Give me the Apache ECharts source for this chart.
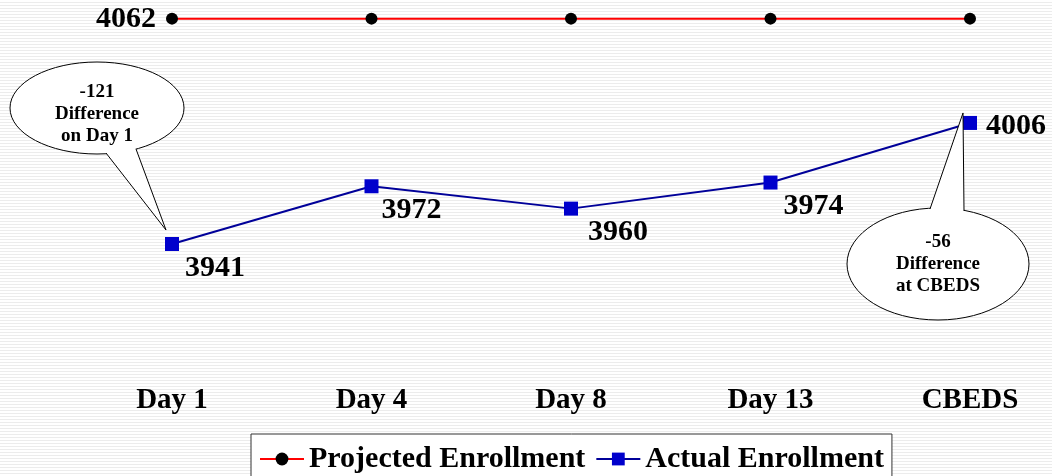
<!DOCTYPE html>
<html>
<head>
<meta charset="utf-8">
<script src="https://cdn.jsdelivr.net/npm/echarts@6/dist/echarts.min.js"></script>
<style>
  html, body { margin: 0; padding: 0; }
  #chart {
    width: 1052px;
    height: 476px;
    background: repeating-linear-gradient(to bottom, #ffffff 0px, #ffffff 2px, #ececec 2px, #ececec 3px);
  }
</style>
</head>
<body>
<div id="chart"></div>
<script>
const categories = ['Day 1', 'Day 4', 'Day 8', 'Day 13', 'CBEDS']
const projected = [4062, 4062, 4062, 4062, 4062]
const actual = [3941, 3972, 3960, 3974, 4006]

const font = 'Liberation Serif'
// label offsets for the actual series, per point
const actualOffsets = [[43, 24], [40, 24], [47, 24], [43, 24], [46, 3]]

const chart = echarts.init(document.getElementById('chart'))

const option = {
  animation: false,
  backgroundColor: 'transparent',
  grid: { left: 172, right: 82, top: 0, bottom: 96 },
  xAxis: {
    type: 'category',
    data: categories,
    boundaryGap: false,
    axisLine: { show: false },
    axisTick: { show: false },
    axisLabel: {
      margin: 6,
      fontFamily: font,
      fontWeight: 'bold',
      fontSize: 29,
      color: '#000'
    }
  },
  yAxis: {
    type: 'value',
    min: 3868,
    max: 4072,
    show: false,
    splitLine: { show: false }
  },
  legend: {
    left: 251,
    bottom: -18,
    itemGap: 10,
    itemWidth: 44,
    itemHeight: 16,
    padding: [10, 8, 20, 8],
    borderColor: '#333',
    borderWidth: 1,
    backgroundColor: '#fff',
    textStyle: {
      fontFamily: font,
      fontWeight: 'bold',
      fontSize: 30,
      color: '#000'
    },
    data: ['Projected Enrollment', 'Actual Enrollment']
  },
  series: [
    {
      name: 'Projected Enrollment',
      type: 'line',
      data: projected.map((v, i) => ({
        value: v,
        label: { show: i === 0 }
      })),
      symbol: 'circle',
      symbolSize: 12,
      itemStyle: { color: '#000' },
      lineStyle: { color: '#ff0000', width: 2 },
      label: {
        position: 'inside',
        offset: [-46, 1],
        fontFamily: font,
        fontWeight: 'bold',
        fontSize: 30,
        color: '#000'
      }
    },
    {
      name: 'Actual Enrollment',
      type: 'line',
      data: actual.map((v, i) => ({
        value: v,
        label: { offset: actualOffsets[i] }
      })),
      symbol: 'rect',
      symbolSize: 14,
      itemStyle: { color: '#0000cc' },
      lineStyle: { color: '#000099', width: 2 },
      label: {
        show: true,
        position: 'inside',
        fontFamily: font,
        fontWeight: 'bold',
        fontSize: 30,
        color: '#000'
      },
      z: 3
    }
  ]
}

chart.setOption(option)

// callout bubbles pointing at the first and last actual points
function callout(idx, ell, base1, base2, tipOff, lines) {
  const p = chart.convertToPixel({ seriesIndex: 1 }, [idx, actual[idx]])
  const tip = [p[0] + tipOff[0], p[1] + tipOff[1]]
  const inner1 = [base1[0] + (ell.cx - base1[0]) * 0.15, base1[1] + (ell.cy - base1[1]) * 0.15]
  const inner2 = [base2[0] + (ell.cx - base2[0]) * 0.15, base2[1] + (ell.cy - base2[1]) * 0.15]
  return [
    {
      type: 'ellipse',
      shape: { cx: ell.cx, cy: ell.cy, rx: ell.rx, ry: ell.ry },
      style: { fill: '#fff', stroke: '#000', lineWidth: 1 },
      z: 10
    },
    {
      type: 'polygon',
      shape: { points: [inner1, base1, tip, base2, inner2] },
      style: { fill: '#fff', stroke: null },
      z: 11
    },
    {
      type: 'polyline',
      shape: { points: [base1, tip, base2] },
      style: { stroke: '#000', lineWidth: 1, fill: null },
      z: 12
    },
    {
      type: 'text',
      x: ell.cx,
      y: ell.cy + (ell.ty || 0),
      style: {
        text: lines.join('\n'),
        fontFamily: font,
        fontWeight: 'bold',
        fontSize: 19,
        lineHeight: 22,
        align: 'center',
        verticalAlign: 'middle',
        fill: '#000'
      },
      z: 13
    }
  ]
}

chart.setOption({
  graphic: [
    ...callout(0, { cx: 97, cy: 108, rx: 87, ry: 46, ty: 6 }, [106, 153], [136, 149], [-6, -14],
      ['-121', 'Difference', 'on Day 1']),
    ...callout(4, { cx: 938, cy: 264, rx: 91, ry: 56 }, [930, 209], [964, 211], [-7, -10],
      ['-56', 'Difference', 'at CBEDS'])
  ]
})
</script>
</body>
</html>
